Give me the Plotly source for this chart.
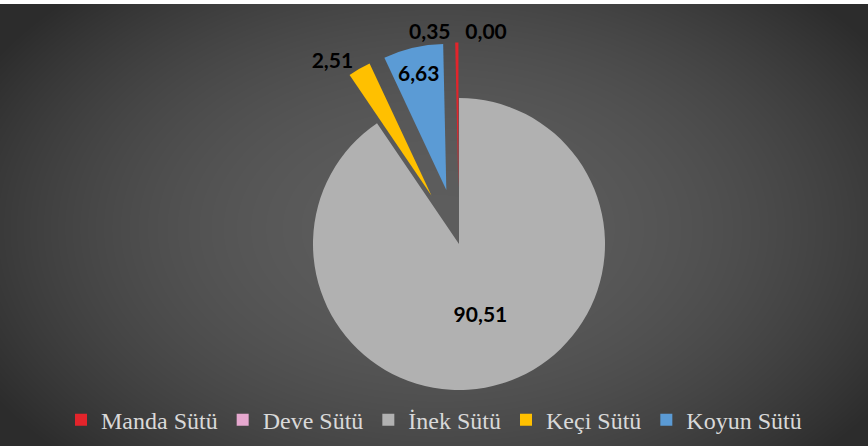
import base64
import struct
import zlib

import numpy as np
import plotly.graph_objects as go

# ---------------- data ----------------
labels = ["Manda Sütü", "Deve Sütü", "İnek Sütü", "Keçi Sütü", "Koyun Sütü"]
values = [0.35, 0.00, 90.51, 2.51, 6.63]
value_texts = ["0,35", "0,00", "90,51", "2,51", "6,63"]

# ---------------- styles ----------------
colors = ["#e3242b", "#e6a8cf", "#b1b1b1", "#ffc000", "#5b9bd5"]
pulls = [0.38, 0.38, 0.0, 0.38, 0.38]
text_positions = ["outside", "outside", "inside", "outside", "inside"]

W, H = 868, 446


def png_data_uri(gray):
    h, w = gray.shape
    g = gray.astype(np.int16)
    up = np.empty_like(g)
    up[0] = g[0]
    up[1:] = g[1:] - g[:-1]
    up = (up % 256).astype(np.uint8)
    raw = np.hstack([np.full((h, 1), 2, dtype=np.uint8), up]).tobytes()

    def chunk(tag, data):
        c = struct.pack(">I", len(data)) + tag + data
        return c + struct.pack(">I", zlib.crc32(tag + data) & 0xFFFFFFFF)

    png = b"\x89PNG\r\n\x1a\n"
    png += chunk(b"IHDR", struct.pack(">IIBBBBB", w, h, 8, 0, 0, 0, 0))
    png += chunk(b"IDAT", zlib.compress(raw, 9))
    png += chunk(b"IEND", b"")
    return "data:image/png;base64," + base64.b64encode(png).decode()


# radial dark-grey background
ys, xs = np.mgrid[0:H, 0:W].astype(float)
d2 = ((xs - 440) / 520.0) ** 2 + ((ys - 228) / 330.0) ** 2
bg = 44 + 49 * np.clip(1 - d2, 0, 1)
bg[:4, :] = 255
bg_uri = png_data_uri(np.round(bg).astype(np.uint8))

fig = go.Figure(
    go.Pie(
        labels=labels,
        values=values,
        text=value_texts,
        textinfo="text",
        texttemplate="%{text}",
        sort=False,
        direction="clockwise",
        rotation=-1.25,
        pull=pulls,
        marker=dict(colors=colors, line=dict(width=0)),
        textposition=text_positions,
        insidetextorientation="horizontal",
        textfont=dict(family="Lato", size=21, color="#000000", weight="bold"),
        domain=dict(x=[0.2, 0.8576], y=[0.0011, 0.9047]),
        hoverinfo="label+value",
    )
)

fig.update_layout(
    width=W,
    height=H,
    margin=dict(l=0, r=0, t=0, b=0, autoexpand=False),
    paper_bgcolor="#ffffff",
    plot_bgcolor="rgba(0,0,0,0)",
    showlegend=True,
    legend=dict(
        orientation="h",
        x=0.500,
        xanchor="center",
        y=0.058,
        yanchor="middle",
        font=dict(family="Liberation Serif", size=24, color="#d9d9d9"),
        bgcolor="rgba(0,0,0,0)",
        itemclick=False,
    ),
    images=[
        dict(
            source=bg_uri,
            xref="paper",
            yref="paper",
            x=0,
            y=1,
            sizex=1,
            sizey=1,
            xanchor="left",
            yanchor="top",
            sizing="stretch",
            layer="below",
        )
    ],
)

fig.write_html(
    "out.html",
    config={"displayModeBar": False},
    post_script="document.body.style.margin='0';document.body.style.overflow='hidden';",
)
